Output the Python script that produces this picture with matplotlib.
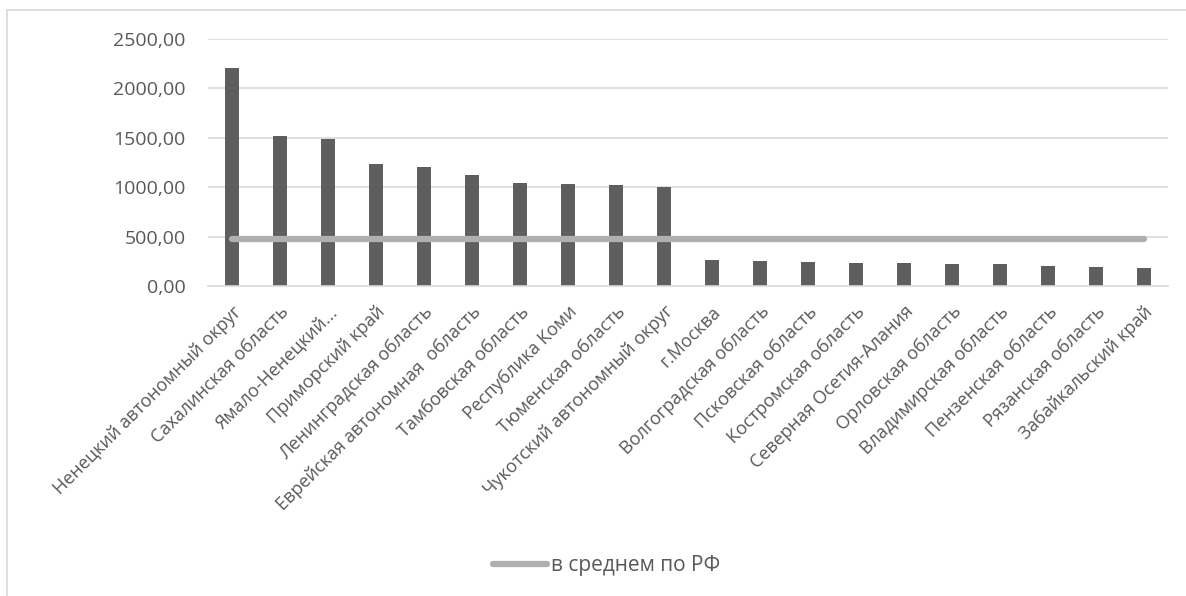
import matplotlib.pyplot as plt
import matplotlib.patches as mpatches
import numpy as np

plt.rcParams['font.family'] = ['Open Sans', 'DejaVu Sans']

# регионы и значения
regions = ['Ненецкий автономный округ', 'Сахалинская область', 'Ямало-Ненецкий...',
           'Приморский край', 'Ленинградская область', 'Еврейская автономная  область',
           'Тамбовская область', 'Республика Коми', 'Тюменская область',
           'Чукотский автономный округ', 'г.Москва', 'Волгоградская область',
           'Псковская область', 'Костромская область', 'Северная Осетия-Алания',
           'Орловская область', 'Владимирская область', 'Пензенская область',
           'Рязанская область', 'Забайкальский край']
values = [2206, 1518, 1491, 1231, 1204, 1120, 1039, 1032, 1019, 999,
          260, 253, 240, 236, 233, 226, 219, 199, 192, 182]
avg_rf = [480] * len(regions)
yticks = [0, 500, 1000, 1500, 2000, 2500]

fig = plt.figure(figsize=(11.86, 5.96), dpi=100)
fig.patches.append(mpatches.Rectangle((7 / 1186, -0.01), 1.0, 1 - 10 / 596 + 0.01,
                                      transform=fig.transFigure, fill=False,
                                      edgecolor='#d9d9d9', linewidth=1.2))

ax = fig.add_axes([208 / 1186, 1 - 286 / 596, 960 / 1186, 247 / 596])
x = np.arange(len(regions))
ax.bar(x, values, width=0.28, color='#5e5e5e', zorder=2)
ax.plot(x, avg_rf, color='#afafaf', linewidth=4.5, solid_capstyle='round',
        zorder=3, label='в среднем по РФ')

ax.set_xlim(-0.5, len(regions) - 0.5)
ax.set_ylim(0, 2500)
ax.set_yticks(yticks)
ax.set_yticklabels([f'{v},00' for v in yticks], fontsize=14, color='#595959')
ax.yaxis.grid(True, color='#d9d9d9', linewidth=1.2, zorder=0)
ax.set_axisbelow(True)
for s in ['top', 'right', 'left']:
    ax.spines[s].set_visible(False)
ax.spines['bottom'].set_color('#d9d9d9')
ax.spines['bottom'].set_linewidth(1.2)
ax.tick_params(axis='y', length=0, pad=16)

ax.set_xticks(x)
ax.set_xticklabels(regions, rotation=45, ha='right', rotation_mode='anchor',
                   fontsize=13, color='#595959')
ax.tick_params(axis='x', length=0, pad=12)

fig.legend(loc='center', bbox_to_anchor=(0.5115, 1 - 566 / 596), frameon=False,
           fontsize=15, labelcolor='#595959', handlelength=2.6, handletextpad=0.2)

fig.savefig('out.png', dpi=100)
